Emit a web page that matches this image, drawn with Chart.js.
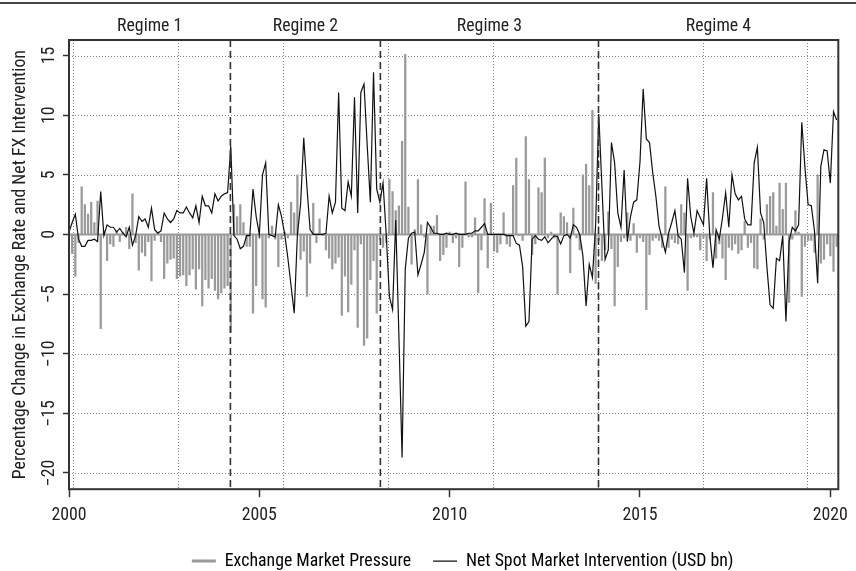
<!DOCTYPE html>
<html>
<head>
<meta charset="utf-8">
<script src="https://cdn.jsdelivr.net/npm/chart.js@4"></script>
<style>
  html, body { margin: 0; padding: 0; background: #fff; }
  #wrap { width: 856px; height: 571px; }
</style>
</head>
<body>
<div id="wrap"><canvas id="fxChart" width="856" height="571"></canvas></div>
<script>
// monthly series, Jan 2000 - Mar 2020
const START_YEAR = 2000;

// exchange market pressure, % (grey bars)
const pressure = [
  -0.3, -1.6, -3.5, -0.7, 4.0, 2.5, 1.7, 2.7, 1.0, 2.8, -7.9, 0.3,
  -2.2, -0.8, -1.0, 0.3, -0.6, 0.2, 0.6, -1.2, 3.4, -0.7, -3.0, -1.5,
  -1.8, -0.6, -3.9, -0.5, 0.2, -0.6, -3.7, -2.4, -2.1, -2.0, -3.7, -3.5,
  -3.4, -4.3, -3.4, -2.9, -4.6, -2.9, -6.0, -3.8, -4.5, -3.7, -4.7, -5.4,
  -4.9, -4.5, -4.3, -8.2, 2.5, 1.5, 2.5, 1.0, -1.0, -1.0, -6.6, -4.3,
  -0.3, -5.4, -6.1, -0.3, 0.7, -0.4, -2.7, -0.4, 0.2, -0.3, 2.7, 1.8,
  5.0, -2.1, -1.4, -5.2, -2.4, 2.6, -0.7, 1.3, -0.1, -1.3, -2.0, -2.9,
  -2.4, -1.9, -6.8, -3.5, -6.5, -4.2, -1.3, -7.8, -0.8, -9.3, -8.7, -3.8,
  -2.2, -6.6, -0.4, -1.1, -0.7, 4.6, 3.6, 2.0, 2.4, 7.8, 15.1, 2.3,
  -2.5, 0.4, 4.6, 0.8, -0.2, -5.0, 0.7, 0.7, 1.6, -2.2, -1.7, -1.1,
  0.2, -0.7, -0.3, -2.7, -1.1, 4.4, -0.2, -0.2, 1.4, -4.9, -1.3, 3.0,
  -2.8, 2.6, -1.4, -1.5, -0.8, 1.8, -0.8, -1.0, 4.1, 6.4, -0.1, -0.5,
  8.2, 4.6, -1.7, -0.8, 3.9, 3.5, 6.4, -0.3, 0.2, -0.3, -5.0, 1.8,
  1.5, 1.0, -3.2, 2.2, -0.3, -1.3, 5.0, 5.9, 4.1, 10.4, -4.1, -0.5,
  -2.2, -1.3, 1.9, -1.2, -6.0, -2.7, -0.6, -0.3, 1.8, -0.5, 0.9, -1.5,
  -0.3, -0.6, -6.3, -1.7, -0.5, -0.3, -0.5, -1.1, 4.0, -1.1, -0.4, -0.7,
  -0.8, 2.5, 1.8, -4.7, -0.3, -0.2, -0.2, -1.3, -0.3, -2.2, -0.4, 3.5,
  -2.0, -0.8, -2.0, -3.8, -1.1, -1.3, -0.8, -1.6, -1.3, 1.1, -1.1, -0.7,
  -2.8, -2.9, 1.3, -0.4, 2.5, 3.2, 3.5, 0.7, 4.3, 2.1, 4.3, -5.7,
  -0.4, 2.0, 0.2, -5.2, -1.0, -0.5, -0.5, -1.5, 5.0, -2.4, -2.1, -0.8,
  -1.8, -3.1, -1.0
];

// net spot market intervention, USD bn (black line)
const intervention = [
  0.2, 1.0, 1.7, -0.4, -1.0, -1.0, -0.5, -0.5, -0.4, -0.6, 3.6, -0.1,
  0.8, 0.6, 0.6, 0.2, 0.5, 0.1, -0.2, 0.6, -0.9, -0.1, 1.5, 1.1,
  1.3, 0.6, 2.2, 0.4, 0.1, 0.3, 1.8, 1.3, 1.0, 1.3, 2.0, 1.8,
  1.8, 2.3, 1.8, 1.4, 2.4, 1.0, 3.2, 2.4, 2.4, 1.8, 3.4, 2.8,
  3.2, 3.4, 3.5, 7.4, -0.1, -0.4, -1.2, -1.0, -0.1, -0.1, 3.8, 1.5,
  0.0, 5.0, 6.0, 0.0, -0.1, -0.2, 2.5, 1.5, 0.0, -2.0, -4.3, -6.6,
  0.0, 2.5, 8.1, 4.0, 0.4, 0.0, 0.0, 0.0, 0.0, 0.1, 3.2, 1.8,
  2.7, 11.9, 2.2, 2.0, 4.4, 3.2, 11.5, 1.8, 11.9, 12.6, 7.5, 2.7,
  13.6, 3.8, 2.7, 4.3, 0.0, -5.2, -6.3, 1.2, -8.5, -18.7, -2.9, -0.3,
  0.1, 0.2, -3.4, -2.5, -1.5, 1.0, 0.6, 0.1, 0.1, 0.0, 0.0, 0.1,
  0.0, 0.0, 0.1, 0.0, 0.0, 0.0, 0.1, 0.1, 0.3, 0.3, 0.6, 0.9,
  0.0, 0.0, 0.0, 0.0, 0.0, 0.0, -0.1, -0.1, -0.1, -0.75, -0.9, -2.7,
  -7.7, -7.3, -0.4, -0.1, -0.4, -0.5, -0.2, -0.7, -0.4, -0.1, -0.2, -0.8,
  -0.1, 0.0, -0.3, 0.8, 0.6, 0.0, -1.8, -6.0, -2.5, -3.6, 0.7, 10.1,
  4.0, -2.1, -1.3, 7.7, 6.0, 1.8, 0.6, 5.4, -0.6, 1.5, 2.7, 2.9,
  6.1, 12.2, 8.0, 7.7, 5.2, 3.2, 0.7, -0.4, -1.5, 0.1, 1.0, 2.0,
  -0.1, -0.4, -3.2, 4.7, 1.5, 0.1, 2.0, 1.4, 0.8, 4.7, -0.1, -2.8,
  0.4, -0.4, 1.4, 3.5, 0.6, 5.0, 3.4, 2.9, 3.2, 1.3, 0.8, 0.8,
  6.0, 7.3, 1.8, 1.0, -2.7, -5.9, -6.2, -2.0, -2.2, -0.1, -7.3, -0.6,
  0.6, 0.3, 0.8, 9.4, 5.6, 2.5, 2.4, 0.3, -4.1, 5.7, 7.1, 7.0,
  4.3, 10.3, 9.6
];

const months = pressure.map((_, i) => START_YEAR + i / 12);

const xTicks = [2000, 2005, 2010, 2015, 2020];
const yTicks = [-20, -15, -10, -5, 0, 5, 10, 15];
const gridYears = [2000.10, 2002.86, 2005.62, 2008.38, 2011.14, 2013.90, 2016.65, 2019.40];
const regimeBreaks = [2004.24, 2008.18, 2013.91];
const regimeLabels = ['Regime 1', 'Regime 2', 'Regime 3', 'Regime 4'];
const seriesNames = ['Exchange Market Pressure', 'Net Spot Market Intervention (USD bn)'];
const yTitle = 'Percentage Change in Exchange Rate and Net FX Intervention';

// narrow face first; fall back to whatever condensed sans is around
const FONT = '"Roboto Condensed", "Liberation Sans Narrow", "Arial Narrow", "DejaVu Sans Condensed", sans-serif';
const INK = '#222';
const BAR_GREY = '#9a9a9a';

// shrink the type if only a wide face is available, so the legend line keeps its width
const probe = document.createElement('canvas').getContext('2d');
probe.font = '18px ' + FONT;
const FS = Math.min(18, Math.round(18 * 268 / probe.measureText(seriesNames[1]).width * 10) / 10);

function seg(ctx, x1, y1, x2, y2) {
  ctx.beginPath();
  ctx.moveTo(x1, y1);
  ctx.lineTo(x2, y2);
  ctx.stroke();
}

// grid, zero line, regime markers, frame and labels
const decor = {
  id: 'decor',
  afterLayout(chart) {
    // legend sits a little right of the plot centre
    const lg = chart.legend;
    if (lg) { lg.left += 9; lg.right += 9; }
  },
  beforeDatasetsDraw(chart) {
    const { ctx, chartArea: a, scales: { x, y } } = chart;
    ctx.save();
    ctx.strokeStyle = '#858585';
    ctx.lineWidth = 1;
    ctx.setLineDash([1, 2]);
    yTicks.filter(v => v !== 0).forEach(v => {
      const py = Math.round(y.getPixelForValue(v)) + 0.5;
      seg(ctx, a.left, py, a.right, py);
    });
    gridYears.forEach(v => {
      const px = Math.round(x.getPixelForValue(v)) + 0.5;
      seg(ctx, px, a.top, px, a.bottom);
    });
    ctx.setLineDash([]);
    ctx.strokeStyle = BAR_GREY;
    ctx.lineWidth = 2;
    const y0 = y.getPixelForValue(0);
    seg(ctx, a.left, y0, a.right, y0);
    ctx.restore();
  },
  afterDatasetsDraw(chart) {
    const { ctx, chartArea: a, scales: { x } } = chart;
    ctx.save();
    ctx.strokeStyle = '#333';
    ctx.lineWidth = 1.6;
    ctx.setLineDash([7, 4]);
    regimeBreaks.forEach(v => {
      const px = x.getPixelForValue(v);
      seg(ctx, px, a.top, px, a.bottom);
    });
    ctx.restore();
  },
  afterDraw(chart) {
    const { ctx, chartArea: a, scales: { x, y } } = chart;
    ctx.save();
    ctx.strokeStyle = '#333';
    ctx.lineWidth = 2;
    ctx.strokeRect(a.left, a.top, a.right - a.left, a.bottom - a.top);
    ctx.strokeStyle = '#444';
    seg(ctx, 0, 3, chart.width, 3);

    ctx.fillStyle = INK;
    ctx.font = FS + 'px ' + FONT;
    ctx.textAlign = 'center';
    ctx.textBaseline = 'alphabetic';
    const bounds = [x.min].concat(regimeBreaks, [x.max]);
    regimeLabels.forEach((txt, i) => {
      const cx = (x.getPixelForValue(bounds[i]) + x.getPixelForValue(bounds[i + 1])) / 2;
      ctx.fillText(txt, cx, 31);
    });

    // rotated y tick labels, R style
    y.ticks.forEach(t => {
      const lab = t.value < 0 ? '\u2212' + Math.abs(t.value) : String(t.value);
      ctx.save();
      ctx.translate(a.left - 15, y.getPixelForValue(t.value));
      ctx.rotate(-Math.PI / 2);
      ctx.fillText(lab, 0, 0);
      ctx.restore();
    });
    ctx.restore();
  }
};

const legendItems = [
  { text: seriesNames[0], strokeStyle: BAR_GREY, fillStyle: BAR_GREY, lineWidth: 3, pointStyle: 'line', hidden: false, datasetIndex: 0 },
  { text: seriesNames[1], strokeStyle: '#111', fillStyle: '#111', lineWidth: 1.2, pointStyle: 'line', hidden: false, datasetIndex: 1 }
];

const ctx = document.getElementById('fxChart').getContext('2d');
const chart = new Chart(ctx, {
  type: 'bar',
  data: {
    datasets: [
      {
        type: 'bar',
        label: seriesNames[0],
        data: months.map((m, i) => ({ x: m, y: pressure[i] })),
        backgroundColor: BAR_GREY,
        borderWidth: 0,
        barThickness: 1.6,
        order: 2
      },
      {
        type: 'line',
        label: seriesNames[1],
        data: months.map((m, i) => ({ x: m, y: intervention[i] })),
        borderColor: '#111',
        borderWidth: 1.2,
        pointRadius: 0,
        tension: 0,
        order: 1
      }
    ]
  },
  options: {
    responsive: false,
    animation: false,
    devicePixelRatio: 1,
    layout: { padding: { top: 40, right: 11, bottom: -9, left: 0 } },
    plugins: {
      tooltip: { enabled: false },
      legend: {
        position: 'bottom',
        fullSize: false,
        labels: {
          usePointStyle: true,
          pointStyleWidth: 24,
          padding: 22,
          color: INK,
          font: { family: FONT, size: FS },
          generateLabels: () => legendItems
        }
      }
    },
    scales: {
      x: {
        type: 'linear',
        min: 2000,
        max: 2020.21,
        offset: false,
        afterBuildTicks: s => { s.ticks = xTicks.map(v => ({ value: v })); },
        afterFit: s => { s.height = 41; },
        border: { display: false },
        grid: { display: true, offset: false, drawOnChartArea: false, drawTicks: true, tickLength: 8, tickColor: '#333', tickWidth: 1.5 },
        ticks: {
          color: INK,
          font: { family: FONT, size: FS },
          padding: 8,
          maxRotation: 0,
          autoSkip: false,
          callback: v => String(v)
        }
      },
      y: {
        min: -21.36,
        max: 16.3,
        afterBuildTicks: s => { s.ticks = yTicks.map(v => ({ value: v })); },
        afterFit: s => { s.width = 69; },
        border: { display: false },
        grid: { display: true, drawOnChartArea: false, drawTicks: true, tickLength: 6, tickColor: '#333', tickWidth: 1.5 },
        ticks: { display: false },
        title: {
          display: true,
          text: yTitle,
          color: INK,
          font: { family: FONT, size: FS },
          padding: { top: 10, bottom: 0 }
        }
      }
    }
  },
  plugins: [decor]
});
</script>
</body>
</html>
